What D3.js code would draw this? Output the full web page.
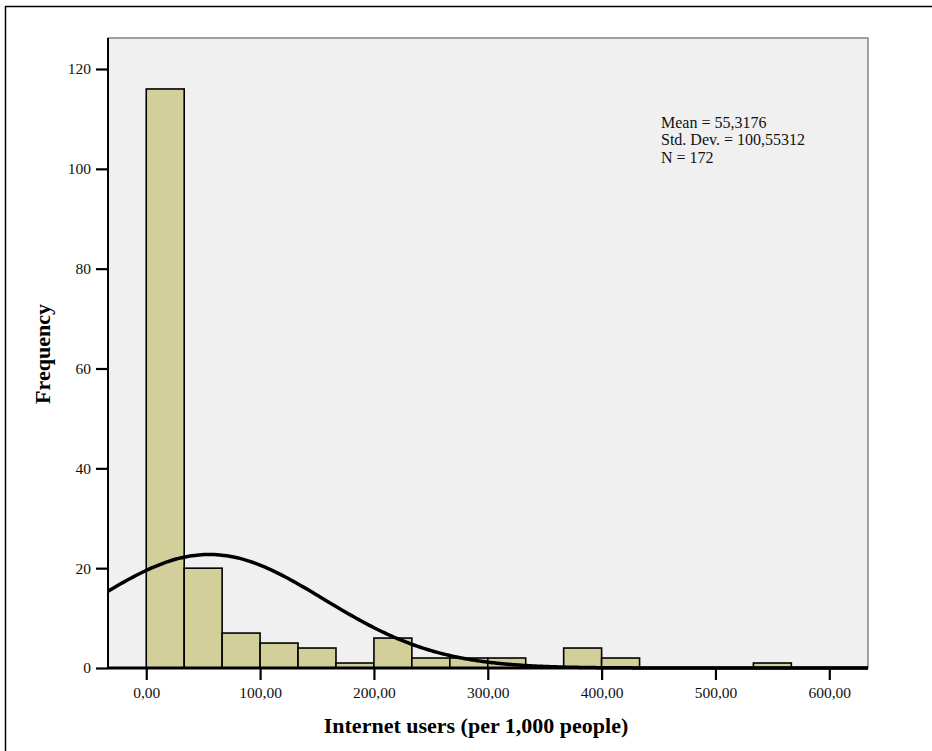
<!DOCTYPE html>
<html>
<head>
<meta charset="utf-8">
<script src="https://cdn.jsdelivr.net/npm/d3@7"></script>
<style>
  html, body { margin: 0; padding: 0; background: #fff; }
  svg { display: block; }
</style>
</head>
<body>
<script>
// Histogram of internet users per 1,000 people with a fitted normal curve.
const binWidth = 100 / 3;
const binStarts = [0, 1, 2, 3, 4, 5, 6, 7, 8, 9, 10, 11, 12, 13, 14, 15, 16].map(i => i * binWidth);
const counts = [116, 20, 7, 5, 4, 1, 6, 2, 2, 2, 0, 4, 2, 0, 0, 0, 1];
const xTicks = [0, 100, 200, 300, 400, 500, 600];
const yTicks = [0, 20, 40, 60, 80, 100, 120];
const stats = { mean: 55.3176, sd: 100.55312, n: 172 };
const statLines = ["Mean = 55,3176", "Std. Dev. = 100,55312", "N = 172"];

const W = 932, H = 751;
const plot = { left: 108, right: 868, top: 38, bottom: 668 };

const svg = d3.select("body").append("svg").attr("width", W).attr("height", H);

// outer frame
svg.append("rect").attr("x", 5.5).attr("y", 6.5).attr("width", W + 10).attr("height", H + 10)
  .attr("fill", "none").attr("stroke", "#000").attr("stroke-width", 1.5);

const x = d3.scaleLinear().domain([-33.6, 634]).range([plot.left, plot.right]);
const y = d3.scaleLinear().domain([0, 120]).range([plot.bottom, 69]);

// plot background
svg.append("rect").attr("x", plot.left).attr("y", plot.top)
  .attr("width", plot.right - plot.left).attr("height", plot.bottom - plot.top)
  .attr("fill", "#f0f0f0").attr("stroke", "#666").attr("stroke-width", 1.2);

const fmt = v => d3.format(".2f")(v).replace(".", ",");

// bars
svg.append("g").selectAll("rect").data(counts.map((c, i) => ({ x0: binStarts[i], c })).filter(d => d.c > 0))
  .join("rect")
  .attr("x", d => x(d.x0))
  .attr("y", d => y(d.c))
  .attr("width", d => x(d.x0 + binWidth) - x(d.x0))
  .attr("height", d => y(0) - y(d.c))
  .attr("fill", "#d3cf9b").attr("stroke", "#000").attr("stroke-width", 1.6);

// fitted normal curve scaled to counts
const pdf = v => Math.exp(-0.5 * ((v - stats.mean) / stats.sd) ** 2) / (stats.sd * Math.sqrt(2 * Math.PI));
const curvePts = d3.range(0, 301).map(i => {
  const v = x.domain()[0] + (x.domain()[1] - x.domain()[0]) * i / 300;
  return [v, stats.n * binWidth * pdf(v)];
});
svg.append("path").datum(curvePts)
  .attr("d", d3.line().x(d => x(d[0])).y(d => y(d[1])).curve(d3.curveBasis))
  .attr("fill", "none").attr("stroke", "#000").attr("stroke-width", 3.5);

// axes
const yAxis = svg.append("g").attr("transform", `translate(${plot.left},0)`)
  .call(d3.axisLeft(y).tickValues(yTicks).tickSize(12).tickPadding(5).tickFormat(d3.format("d")));
yAxis.select(".domain").attr("d", `M0,${plot.top}V${plot.bottom}`).attr("stroke-width", 2);
yAxis.selectAll(".tick line").attr("stroke-width", 2.2);
yAxis.selectAll("text").attr("font-family", "Liberation Serif").attr("font-size", 15.5).attr("fill", "#111");

const xAxis = svg.append("g").attr("transform", `translate(0,${plot.bottom})`)
  .call(d3.axisBottom(x).tickValues(xTicks).tickSize(12).tickPadding(7).tickFormat(fmt));
xAxis.select(".domain").attr("d", `M${plot.left},0H${plot.right}`).attr("stroke-width", 3);
xAxis.selectAll(".tick line").attr("stroke-width", 2.2);
xAxis.selectAll("text").attr("font-family", "Liberation Serif").attr("font-size", 15.5).attr("fill", "#111");

// axis titles
svg.append("text").attr("x", 476).attr("y", 733).attr("text-anchor", "middle")
  .attr("font-family", "Liberation Serif").attr("font-weight", "bold").attr("font-size", 22)
  .text("Internet users (per 1,000 people)");
svg.append("text").attr("transform", "translate(50,354) rotate(-90)").attr("text-anchor", "middle")
  .attr("font-family", "Liberation Serif").attr("font-weight", "bold").attr("font-size", 22)
  .text("Frequency");

// summary statistics
svg.append("g").selectAll("text").data(statLines).join("text")
  .attr("x", 661).attr("y", (d, i) => 127.5 + i * 17.8)
  .attr("font-family", "Liberation Serif").attr("font-size", 16).attr("fill", "#111")
  .text(d => d);
</script>
</body>
</html>
